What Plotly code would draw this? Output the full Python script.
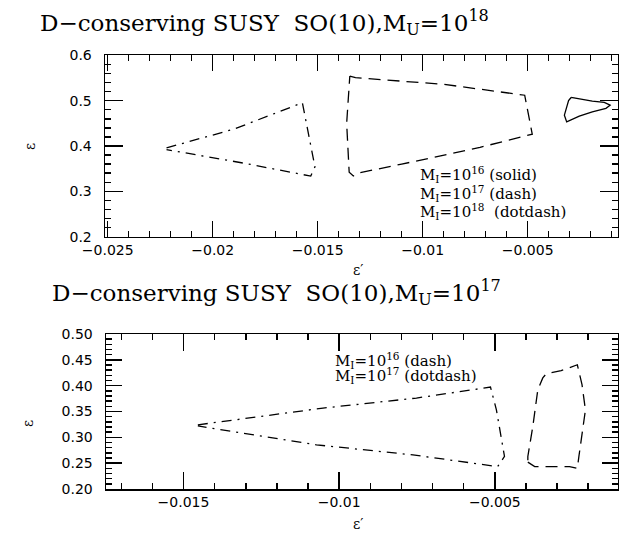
import plotly.graph_objects as go

# ---------------- data ----------------
# Top panel: M_U = 1e18
top_solid_x = [-0.00293, -0.00254, -0.00192, -0.00135, -0.00107, -0.00127, -0.00192, -0.00254, -0.00314, -0.00325, -0.00305, -0.00293]
top_solid_y = [0.507, 0.5035, 0.499, 0.496, 0.490, 0.483, 0.4755, 0.466, 0.453, 0.468, 0.500, 0.507]

top_dash_x = [-0.01347, -0.0132, -0.0090, -0.00514, -0.00478, -0.00727, -0.0110, -0.0131, -0.0133, -0.0135, -0.01362, -0.01347]
top_dash_y = [0.554, 0.5506, 0.536, 0.512, 0.426, 0.397, 0.360, 0.340, 0.334, 0.342, 0.450, 0.554]

top_dotdash_x = [-0.0222, -0.0190, -0.01573, -0.01513, -0.01533, -0.0185, -0.0222]
top_dotdash_y = [0.396, 0.437, 0.4954, 0.354, 0.3336, 0.362, 0.392]

# Bottom panel: M_U = 1e17
bot_dash_x = [-0.00394, -0.00372, -0.0026, -0.00235, -0.0023, -0.00209, -0.0022, -0.00235, -0.00287, -0.00335, -0.00346, -0.00362, -0.00378, -0.00394, -0.00394]
bot_dash_y = [0.252, 0.2434, 0.2434, 0.240, 0.263, 0.353, 0.402, 0.4405, 0.429, 0.423, 0.415, 0.392, 0.321, 0.263, 0.252]

bot_dotdash_x = [-0.01454, -0.01052, -0.00752, -0.00514, -0.00495, -0.00469, -0.00491, -0.00763, -0.01073, -0.01454]
bot_dotdash_y = [0.3242, 0.3566, 0.376, 0.3973, 0.3533, 0.263, 0.2434, 0.266, 0.2855, 0.322]

# tick spacing (major, minor)
top_x_major, top_x_minor = 0.005, 0.001
top_y_major, top_y_minor = 0.1, 0.02
bot_x_major, bot_x_minor = 0.005, 0.001
bot_y_major, bot_y_minor = 0.05, 0.01

# ---------------- figure ----------------
W, H = 619, 533
def px(x):
    return x / W
def py(y):
    return 1 - y / H

DASH = "12px,7px"
DOTDASH = "10px,6px,2px,6px"
LW = 1.3

fig = go.Figure()
for xs, ys, d, xa, ya in [(top_solid_x, top_solid_y, None, "x", "y"),
                          (top_dash_x, top_dash_y, DASH, "x", "y"),
                          (top_dotdash_x, top_dotdash_y, DOTDASH, "x", "y"),
                          (bot_dash_x, bot_dash_y, DASH, "x2", "y2"),
                          (bot_dotdash_x, bot_dotdash_y, DOTDASH, "x2", "y2")]:
    line = dict(color="black", width=LW)
    if d:
        line["dash"] = d
    fig.add_trace(go.Scatter(x=xs, y=ys, mode="lines", line=line, xaxis=xa, yaxis=ya))

NB = "\u00a0"

def axis_common(major_len, dtick, tick0, minor_dtick, minor_len=6):
    return dict(showline=True, linecolor="black", linewidth=1.5, mirror="allticks",
                tickmode="linear", dtick=dtick, tick0=tick0,
                ticks="inside", ticklen=major_len, tickcolor="black", tickwidth=1.5,
                gridcolor="rgba(255,255,255,0)",
                minor=dict(dtick=minor_dtick, ticks="inside", ticklen=minor_len,
                           tickcolor="black", tickwidth=1.5))

fig.update_layout(
    template="none",
    font=dict(family="DejaVu Sans", size=14, color="black"),
    width=W, height=H, autosize=False, margin=dict(l=0, r=0, t=0, b=0, pad=0),
    showlegend=False,
    xaxis=dict(**axis_common(16, top_x_major, -0.025, top_x_minor), domain=[px(105), px(617.5)],
               range=[-0.02513, -0.00072], anchor="y"),
    yaxis=dict(**axis_common(18, top_y_major, 0.2, top_y_minor), domain=[py(236.7), py(55.3)],
               range=[0.2, 0.6], anchor="x", tickformat=".1f", ticksuffix=NB + NB),
    xaxis2=dict(**axis_common(17, bot_x_major, -0.015, bot_x_minor), domain=[px(106), px(617.5)],
                range=[-0.01749, -0.00106], anchor="y2"),
    yaxis2=dict(**axis_common(16, bot_y_major, 0.2, bot_y_minor), domain=[py(489), py(334)],
                range=[0.2, 0.5], anchor="x2", tickformat=".2f", ticksuffix=NB + NB),
)

serif = "DejaVu Serif"
ann = []
ann.append(dict(text="D\u2212conserving" + NB + "SUSY" + NB + NB + "SO(10),M<sub>U</sub>=10<sup>18</sup>",
                x=px(38), y=py(22), xanchor="left", yanchor="middle",
                font=dict(family=serif, size=23, color="black")))
ann.append(dict(text="D\u2212conserving" + NB + "SUSY" + NB + NB + "SO(10),M<sub>U</sub>=10<sup>17</sup>",
                x=px(50), y=py(292), xanchor="left", yanchor="middle",
                font=dict(family=serif, size=23, color="black")))
# legend-like labels
lab_font = dict(family=serif, size=15, color="black")
ann.append(dict(text="M<sub>I</sub>=10<sup>16</sup>" + NB + "(solid)", x=px(418), y=py(175),
                xanchor="left", yanchor="middle", font=lab_font))
ann.append(dict(text="M<sub>I</sub>=10<sup>17</sup>" + NB + "(dash)", x=px(418), y=py(193),
                xanchor="left", yanchor="middle", font=lab_font))
ann.append(dict(text="M<sub>I</sub>=10<sup>18</sup>" + NB + NB + "(dotdash)", x=px(418), y=py(211),
                xanchor="left", yanchor="middle", font=lab_font))
ann.append(dict(text="M<sub>I</sub>=10<sup>16</sup>" + NB + "(dash)", x=px(333), y=py(360),
                xanchor="left", yanchor="middle", font=lab_font))
ann.append(dict(text="M<sub>I</sub>=10<sup>17</sup>" + NB + "(dotdash)", x=px(333), y=py(375),
                xanchor="left", yanchor="middle", font=lab_font))
# axis titles
eps_font = dict(family=serif, size=14, color="black")
ann.append(dict(text="\u03b5", x=px(30), y=py(147), textangle=-90, font=eps_font,
                xanchor="center", yanchor="middle"))
ann.append(dict(text="\u03b5", x=px(28), y=py(424), textangle=-90, font=eps_font,
                xanchor="center", yanchor="middle"))
ann.append(dict(text="\u03b5\u2032", x=px(358), y=py(270), font=eps_font,
                xanchor="center", yanchor="middle"))
ann.append(dict(text="\u03b5\u2032", x=px(358), y=py(524), font=eps_font,
                xanchor="center", yanchor="middle"))
for a in ann:
    a.update(xref="paper", yref="paper", showarrow=False)
fig.update_layout(annotations=ann)

fig.write_html("out.html", config={"displayModeBar": False, "staticPlot": True},
               post_script="document.body.style.margin='0';document.body.style.overflow='hidden';")
